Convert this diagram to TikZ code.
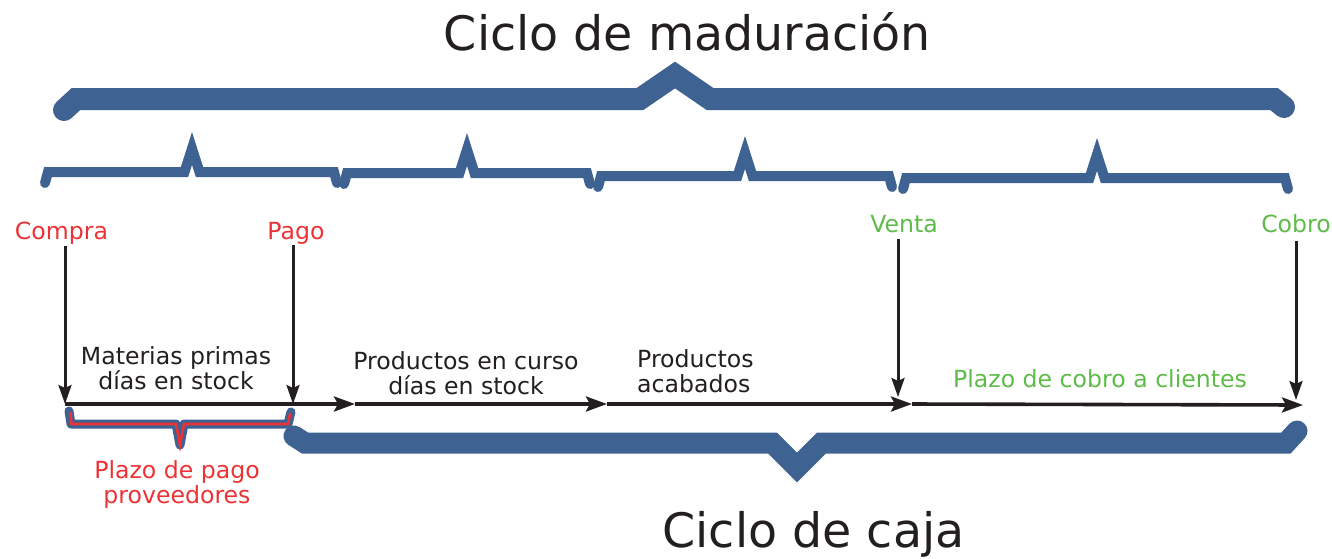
\documentclass[tikz,border=0pt]{standalone}
\usepackage{fontspec}
\setmainfont{DejaVu Sans}
\usetikzlibrary{arrows.meta}
\definecolor{braceblue}{RGB}{62,98,145}
\definecolor{lblred}{RGB}{236,50,52}
\definecolor{lblgreen}{RGB}{94,187,73}
\definecolor{ink}{RGB}{35,31,32}
\begin{document}
\begin{tikzpicture}[x=1pt,y=-1pt,
  bigbrace/.style={draw=braceblue,line width=22pt,line cap=round,line join=miter},
  cajabrace/.style={draw=braceblue,line width=21pt,line cap=round,line join=miter},
  smallbrace/.style={draw=braceblue,line width=10pt,line cap=round,line join=miter,miter limit=10},
  pagoblue/.style={draw=braceblue,line width=9pt,line cap=round,line join=round},
  pagored/.style={draw=lblred,line width=2.6pt,line cap=round,line join=miter,miter limit=10},
  lbl/.style={anchor=base,inner sep=0pt,font=\fontsize{23.6}{25}\selectfont},
  title/.style={anchor=base,inner sep=0pt,text=ink,font=\fontsize{47.5}{50}\selectfont},
  harrow/.style={draw=ink,line width=3.6pt,-{Stealth[length=21pt,width=15pt,inset=4pt]}},
  varrow/.style={draw=ink,line width=3pt,-{Stealth[length=19pt,width=13pt,inset=3pt]}}]
\useasboundingbox (0,0) rectangle (1332,558);

% titles
\node[title] (tmad) at (687.5,50) {Ciclo de maduración};
\node[title] (tcaja) at (813.5,547) {Ciclo de caja};

% big top brace
\draw[bigbrace] (64,110) -- (76,99) -- (640,99) -- (675,75) -- (710,99) -- (1274,99) -- (1284,107);

% small braces
\foreach \xl/\xr/\xp/\yc in {45/337/192/172, 344/590/467/173, 598/892/745/176, 903/1288/1097/178}{
  \draw[smallbrace] (\xl,\yc+11) -- (\xl+3,\yc) -- (\xp-7.5,\yc) -- (\xp,\yc-23.5) -- (\xp+7.5,\yc) -- (\xr-3,\yc) -- (\xr,\yc+11);
}

% event labels
\node[lbl,text=lblred] (compra) at (61.5,239) {Compra};
\node[lbl,text=lblred] (pago) at (296,239) {Pago};
\node[lbl,text=lblgreen] (venta) at (904,232) {Venta};
\node[lbl,text=lblgreen] (cobro) at (1296,232) {Cobro};

% timeline points
\coordinate (t0) at (65,404);
\coordinate (tp) at (293,404);
\coordinate (m1) at (355,404);
\coordinate (m2) at (607,404);
\coordinate (m3) at (912,404);
\coordinate (m4) at (1303,405);
\coordinate (tv) at (898,397);
\coordinate (tc) at (1296,400);

% vertical arrows
\draw[varrow,shorten <=2pt] (compra.south -| t0) -- (t0);
\draw[varrow,shorten <=1pt] (pago.south -| tp) -- (tp);
\draw[varrow,shorten <=6pt] (venta.south -| tv) -- (tv);
\draw[varrow,shorten <=8pt] (cobro.south -| tc) -- (tc);

% timeline
\draw[harrow] (t0) -- (m1);
\draw[harrow] (m1) -- (m2);
\draw[harrow] (m2) -- (m3);
\draw[harrow] (m3) -- (m4);

% phase labels (anchor base = last line baseline)
\node[lbl,align=center,text=ink] (mp) at (176,389) {Materias primas\\días en stock};
\node[lbl,align=center,text=ink] (pc) at (466,394) {Productos en curso\\días en stock};
\node[lbl,align=left,text=ink,anchor=base west] (pa) at (637,392) {Productos\\acabados};
\node[lbl,text=lblgreen] (pcc) at (1100,387) {Plazo de cobro a clientes};

% plazo de pago brace
\draw[pagoblue] (69,411) -- (71,424) -- (176,424) -- (180,445) -- (184,424) -- (288,424) -- (291,412);
\draw[pagored] (70.5,413) -- (71.5,424) -- (176,424) -- (180,445) -- (184,424) -- (288,424) -- (290,414);
\node[lbl,align=center,text=lblred] (ppp) at (177,503) {Plazo de pago\\proveedores};

% ciclo de caja brace
\draw[cajabrace] (294,436) -- (305,443) -- (772.5,443) -- (797,467.5) -- (821.5,443) -- (1286,443) -- (1297,431);
\end{tikzpicture}
\end{document}
